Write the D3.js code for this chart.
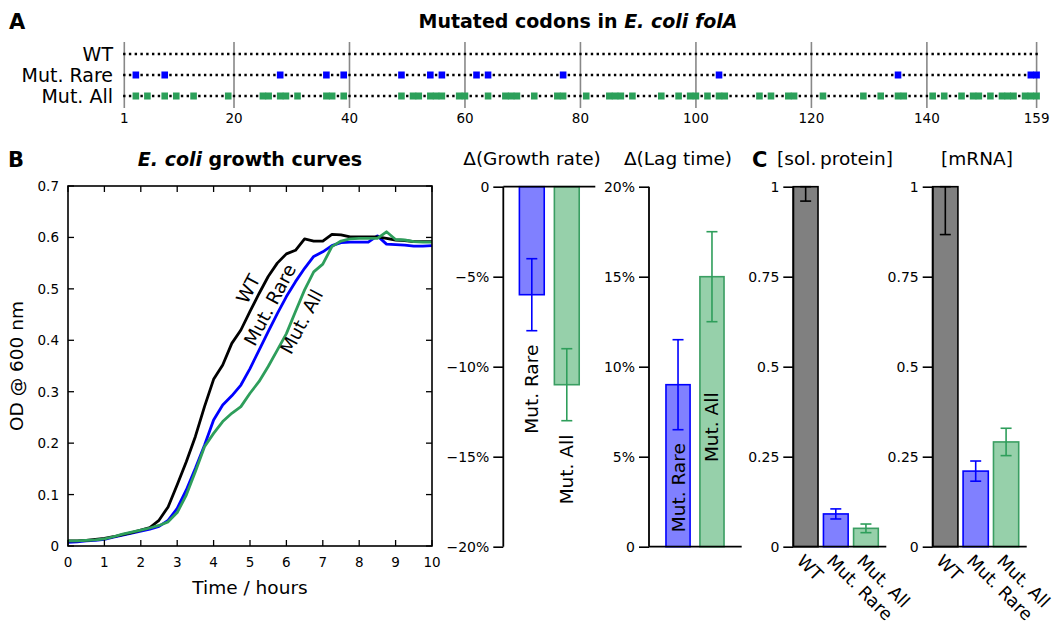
<!DOCTYPE html>
<html>
<head>
<meta charset="utf-8">
<script src="https://cdn.jsdelivr.net/npm/d3@7"></script>
<style>
  body { margin: 0; background: #fff; }
  svg { font-family: "DejaVu Sans", sans-serif; }
</style>
</head>
<body>
<div id="chart"></div>
<script>
// Panel A: mutated codon positions
const rowLabels = ["WT", "Mut. Rare", "Mut. All"];
const codonTicks = [1, 20, 40, 60, 80, 100, 120, 140, 159];
const rareCodons = [3, 8, 28, 36, 39, 49, 54, 56, 62, 64, 77, 104, 135, 158, 159];
const allCodons = [3, 5, 8, 10, 13, 19, 25, 26, 28, 29, 31, 36, 37, 39, 49, 51, 52, 54, 55, 56,
  59, 60, 64, 67, 68, 69, 72, 76, 77, 81, 85, 86, 87, 89, 94, 97, 99, 100, 102, 104, 105,
  111, 113, 116, 117, 122, 129, 132, 135, 136, 141, 143, 146, 148, 149, 151, 153, 154, 155,
  157, 158, 159];

// Panel B: growth curves (OD600 vs hours)
const hours = [0, 0.25, 0.5, 0.75, 1, 1.25, 1.5, 1.75, 2, 2.25, 2.5, 2.75, 3, 3.25, 3.5, 3.75,
  4, 4.25, 4.5, 4.75, 5, 5.25, 5.5, 5.75, 6, 6.25, 6.5, 6.75, 7, 7.25, 7.5, 7.75,
  8, 8.25, 8.5, 8.75, 9, 9.25, 9.5, 9.75, 10];
const odWT = [0.010, 0.010, 0.011, 0.013, 0.015, 0.018, 0.022, 0.026, 0.031, 0.036, 0.050, 0.076,
  0.119, 0.164, 0.213, 0.271, 0.324, 0.352, 0.394, 0.420, 0.456, 0.491, 0.524, 0.550,
  0.568, 0.575, 0.597, 0.593, 0.593, 0.606, 0.605, 0.601, 0.601, 0.601, 0.601, 0.598,
  0.595, 0.594, 0.592, 0.592, 0.592];
const odRare = [0.007, 0.008, 0.010, 0.011, 0.013, 0.017, 0.021, 0.025, 0.029, 0.033, 0.038, 0.050,
  0.073, 0.109, 0.151, 0.196, 0.245, 0.274, 0.292, 0.313, 0.345, 0.381, 0.417, 0.452,
  0.485, 0.514, 0.540, 0.563, 0.572, 0.584, 0.590, 0.591, 0.591, 0.591, 0.603, 0.587,
  0.586, 0.585, 0.583, 0.583, 0.584];
const odAll = [0.010, 0.010, 0.011, 0.012, 0.014, 0.018, 0.023, 0.027, 0.031, 0.035, 0.040, 0.047,
  0.065, 0.099, 0.145, 0.193, 0.219, 0.242, 0.258, 0.271, 0.297, 0.320, 0.349, 0.381,
  0.413, 0.456, 0.498, 0.533, 0.548, 0.582, 0.593, 0.597, 0.598, 0.598, 0.598, 0.611,
  0.596, 0.595, 0.592, 0.591, 0.591];

// Bar panels
const mutGroups = ["Mut. Rare", "Mut. All"];
const growthRate = [-6, -11];      // percent
const growthRateErr = [2, 2];
const lagTime = [9, 15];           // percent
const lagTimeErr = [2.5, 2.5];
const lagLabelFrom = [0.8, 4.7];   // percent, where the in-bar label starts

const allGroups = ["WT", "Mut. Rare", "Mut. All"];
const solProtein = [1, 0.091, 0.051];
const solProteinErr = [0.04, 0.014, 0.012];
const mRNA = [1, 0.21, 0.291];
const mRNAErr = [0.133, 0.028, 0.038];

const growthTicks = [0, -5, -10, -15, -20];
const lagTicks = [0, 5, 10, 15, 20];
const levelTicks = [0, 0.25, 0.5, 0.75, 1];

const colors = {"WT": "#000000", "Mut. Rare": "#0000ff", "Mut. All": "#2e9e5b"};
const fills = {"WT": "#808080", "Mut. Rare": "#8080ff", "Mut. All": "#96d0aa"};
const strokes = {"WT": "#000000", "Mut. Rare": "#0000ff", "Mut. All": "#3a9e62"};
const minus = s => String(s).replace("-", "\u2212");

const svg = d3.select("#chart").append("svg")
  .attr("width", 1055).attr("height", 629);

// ---------- Panel A ----------
svg.append("text").attr("x", 9).attr("y", 29)
  .attr("font-size", 21).attr("font-weight", "bold").text("A");

const titleA = svg.append("text").attr("x", 578).attr("y", 28)
  .attr("text-anchor", "middle").attr("font-size", 19).attr("font-weight", "bold");
titleA.append("tspan").text("Mutated codons in ");
titleA.append("tspan").attr("font-style", "italic").text("E. coli folA");

const xA = d3.scaleLinear().domain([1, 159]).range([124.3, 1036.6]);
const yA = d3.scalePoint().domain(rowLabels).range([54, 96]);

svg.append("g").selectAll("line").data(codonTicks).join("line")
  .attr("x1", d => xA(d)).attr("x2", d => xA(d))
  .attr("y1", 42).attr("y2", 108)
  .attr("stroke", "#888").attr("stroke-width", 1.6);

svg.append("g").selectAll("text").data(codonTicks).join("text")
  .attr("x", d => xA(d)).attr("y", 123)
  .attr("text-anchor", "middle").attr("font-size", 13.5).text(d => d);

const step = xA(2) - xA(1);
svg.append("g").selectAll("line").data(rowLabels).join("line")
  .attr("x1", xA(1) - 1.2).attr("x2", xA(159) + 1.2)
  .attr("y1", d => yA(d)).attr("y2", d => yA(d))
  .attr("stroke", "#000").attr("stroke-width", 2.4)
  .attr("stroke-dasharray", `2.4 ${step - 2.4}`);

svg.append("g").selectAll("text").data(rowLabels).join("text")
  .attr("x", 113).attr("y", d => yA(d) + 7)
  .attr("text-anchor", "end").attr("font-size", 19).text(d => d);

const markRows = [
  {row: "Mut. Rare", codons: rareCodons},
  {row: "Mut. All", codons: allCodons}
];
markRows.forEach(r => {
  svg.append("g").selectAll("rect").data(r.codons).join("rect")
    .attr("x", d => xA(d) - 3.3).attr("width", 6.6)
    .attr("y", yA(r.row) - 3.5).attr("height", 7)
    .attr("fill", r.row === "Mut. Rare" ? "#0000ff" : "#2ca05a");
});

// ---------- Panel B: growth curves ----------
svg.append("text").attr("x", 8).attr("y", 167)
  .attr("font-size", 21).attr("font-weight", "bold").text("B");

const titleB = svg.append("text").attr("x", 250).attr("y", 166)
  .attr("text-anchor", "middle").attr("font-size", 19).attr("font-weight", "bold");
titleB.append("tspan").attr("font-style", "italic").text("E. coli");
titleB.append("tspan").text(" growth curves");

const xB = d3.scaleLinear().domain([0, 10]).range([68, 432]);
const yB = d3.scaleLinear().domain([0, 0.7]).range([546, 186]);
const xTicksB = d3.range(0, 11);
const yTicksB = [0, 0.1, 0.2, 0.3, 0.4, 0.5, 0.6, 0.7];

const line = d3.line().x(d => xB(d[0])).y(d => yB(d[1]));
const curves = [
  {name: "WT", values: odWT},
  {name: "Mut. Rare", values: odRare},
  {name: "Mut. All", values: odAll}
];
svg.append("defs").append("clipPath").attr("id", "clipB")
  .append("rect").attr("x", 68).attr("y", 186).attr("width", 364).attr("height", 360);
const gCurves = svg.append("g").attr("clip-path", "url(#clipB)");
// draw rare first, then WT, then all on top where they overlap
[curves[1], curves[0], curves[2]].forEach(c => {
  gCurves.append("path")
    .datum(hours.map((h, i) => [h, c.values[i]]))
    .attr("fill", "none").attr("stroke", colors[c.name])
    .attr("stroke-width", 2.8).attr("stroke-linejoin", "round")
    .attr("d", line);
});

// inward ticks on all four sides
const gAx = svg.append("g").attr("stroke", "#000").attr("stroke-width", 1.3);
xTicksB.forEach(t => {
  gAx.append("line").attr("x1", xB(t)).attr("x2", xB(t)).attr("y1", 546).attr("y2", 540);
  gAx.append("line").attr("x1", xB(t)).attr("x2", xB(t)).attr("y1", 186).attr("y2", 192);
});
yTicksB.forEach(t => {
  gAx.append("line").attr("x1", 68).attr("x2", 74).attr("y1", yB(t)).attr("y2", yB(t));
  gAx.append("line").attr("x1", 432).attr("x2", 426).attr("y1", yB(t)).attr("y2", yB(t));
});
svg.append("rect").attr("x", 68).attr("y", 186).attr("width", 364).attr("height", 360)
  .attr("fill", "none").attr("stroke", "#000").attr("stroke-width", 1.6);

svg.append("g").selectAll("text").data(xTicksB).join("text")
  .attr("x", d => xB(d)).attr("y", 567).attr("text-anchor", "middle")
  .attr("font-size", 13.5).text(d => d);
svg.append("g").selectAll("text").data(yTicksB).join("text")
  .attr("x", 59).attr("y", d => yB(d) + 5).attr("text-anchor", "end")
  .attr("font-size", 13.5).text(d => d);

svg.append("text").attr("x", xB(5)).attr("y", 594).attr("text-anchor", "middle")
  .attr("font-size", 18.5).text("Time / hours");
svg.append("text").attr("transform", `translate(23,${yB(0.35)}) rotate(-90)`)
  .attr("text-anchor", "middle").attr("font-size", 18.5).text("OD @ 600 nm");

// curve labels, placed just right of each curve
const curveLabels = [
  {name: "WT", t: 4.95, v: 0.50},
  {name: "Mut. Rare", t: 5.55, v: 0.469},
  {name: "Mut. All", t: 6.42, v: 0.436}
];
svg.append("g").selectAll("text").data(curveLabels).join("text")
  .attr("transform", d => `translate(${xB(d.t)},${yB(d.v)}) rotate(-62)`)
  .attr("text-anchor", "middle").attr("dy", "0.35em")
  .attr("font-size", 18.5).text(d => d.name);

// ---------- bar panel helper ----------
function barPanel(opt) {
  const g = svg.append("g");
  const x = d3.scaleBand().domain(opt.groups)
    .range([opt.axisX, opt.axisX + opt.width])
    .paddingInner(opt.padIn).paddingOuter(opt.padOut);
  const y = d3.scaleLinear().domain(opt.domain).range([546.7, 186.7]).clamp(true);

  g.selectAll("rect").data(opt.groups).join("rect")
    .attr("x", d => x(d)).attr("width", x.bandwidth())
    .attr("y", (d, i) => Math.min(y(opt.values[i]), y(0)))
    .attr("height", (d, i) => Math.abs(y(opt.values[i]) - y(0)))
    .attr("fill", d => fills[d]).attr("stroke", d => strokes[d]).attr("stroke-width", 1.6);

  const eb = g.selectAll("g.err").data(opt.groups).join("g").attr("class", "err")
    .attr("stroke", d => colors[d]).attr("stroke-width", 1.6);
  eb.append("line")
    .attr("x1", d => x(d) + x.bandwidth() / 2).attr("x2", d => x(d) + x.bandwidth() / 2)
    .attr("y1", (d, i) => y(opt.values[i] - opt.errs[i]))
    .attr("y2", (d, i) => y(opt.values[i] + opt.errs[i]));
  [-1, 1].forEach(s => {
    eb.append("line")
      .attr("x1", d => x(d) + x.bandwidth() / 2 - 5.5).attr("x2", d => x(d) + x.bandwidth() / 2 + 5.5)
      .attr("y1", (d, i) => y(opt.values[i] + s * opt.errs[i]))
      .attr("y2", (d, i) => y(opt.values[i] + s * opt.errs[i]));
  });

  const axis = d3.axisLeft(y).tickValues(opt.ticks).tickFormat(opt.format)
    .tickSize(10).tickPadding(4);
  const ga = g.append("g").attr("transform", `translate(${opt.axisX},0)`).call(axis);
  ga.select(".domain").attr("stroke-width", 1.8).attr("d", `M0,186.7V546.7`);
  ga.selectAll(".tick line").attr("stroke-width", 1.6);
  ga.selectAll(".tick text").attr("font-size", 14).attr("font-family", "DejaVu Sans");

  g.append("line").attr("x1", opt.axisX).attr("x2", opt.axisX + opt.baseLen)
    .attr("y1", y(0)).attr("y2", y(0)).attr("stroke", "#000").attr("stroke-width", 1.8);

  g.append("text").attr("x", opt.titleX).attr("y", 165).attr("text-anchor", "middle")
    .attr("font-size", 18.5).text(opt.title);
  return {x, y, g};
}

// Δ(Growth rate)
const gr = barPanel({
  groups: mutGroups, values: growthRate, errs: growthRateErr,
  axisX: 503.3, width: 92, padIn: 0.29, padOut: 0.46, baseLen: 92,
  domain: [-20, 0], ticks: growthTicks, format: d => d === 0 ? "0" : minus(d) + "%",
  title: "\u0394(Growth rate)", titleX: 532
});
gr.g.append("g").selectAll("text").data(mutGroups).join("text")
  .attr("transform", (d, i) =>
    `translate(${gr.x(d) + gr.x.bandwidth() / 2},${gr.y(growthRate[i] - growthRateErr[i]) + 14}) rotate(-90)`)
  .attr("text-anchor", "end").attr("dy", "0.35em").attr("font-size", 18.5).text(d => d);

// Δ(Lag time)
const lt = barPanel({
  groups: mutGroups, values: lagTime, errs: lagTimeErr,
  axisX: 649, width: 92, padIn: 0.29, padOut: 0.5, baseLen: 92.7,
  domain: [0, 20], ticks: lagTicks, format: d => d === 0 ? "0" : d + "%",
  title: "\u0394(Lag time)", titleX: 678
});
lt.g.append("g").selectAll("text").data(mutGroups).join("text")
  .attr("transform", (d, i) =>
    `translate(${lt.x(d) + lt.x.bandwidth() / 2},${lt.y(lagLabelFrom[i])}) rotate(-90)`)
  .attr("text-anchor", "start").attr("dy", "0.35em").attr("font-size", 18.5).text(d => d);

// Panel C
svg.append("text").attr("x", 752).attr("y", 167)
  .attr("font-size", 21).attr("font-weight", "bold").text("C");

const levelFmt = d => d === 0 ? "0" : d === 1 ? "1" : String(d);
const pc = barPanel({
  groups: allGroups, values: solProtein, errs: solProteinErr,
  axisX: 793.3, width: 85, padIn: 0.18, padOut: 0, baseLen: 93,
  domain: [0, 1], ticks: levelTicks, format: levelFmt,
  title: "[sol.\u2009protein]", titleX: 835
});
const mc = barPanel({
  groups: allGroups, values: mRNA, errs: mRNAErr,
  axisX: 932.7, width: 86, padIn: 0.17, padOut: 0, baseLen: 94,
  domain: [0, 1], ticks: levelTicks, format: levelFmt,
  title: "[mRNA]", titleX: 977
});
[pc, mc].forEach(p => {
  p.g.append("g").selectAll("text").data(allGroups).join("text")
    .attr("transform", d => `translate(${p.x(d) + p.x.bandwidth() / 2 - 10},562) rotate(45)`)
    .attr("text-anchor", "start").attr("font-size", 17.5).text(d => d);
});
</script>
</body>
</html>
